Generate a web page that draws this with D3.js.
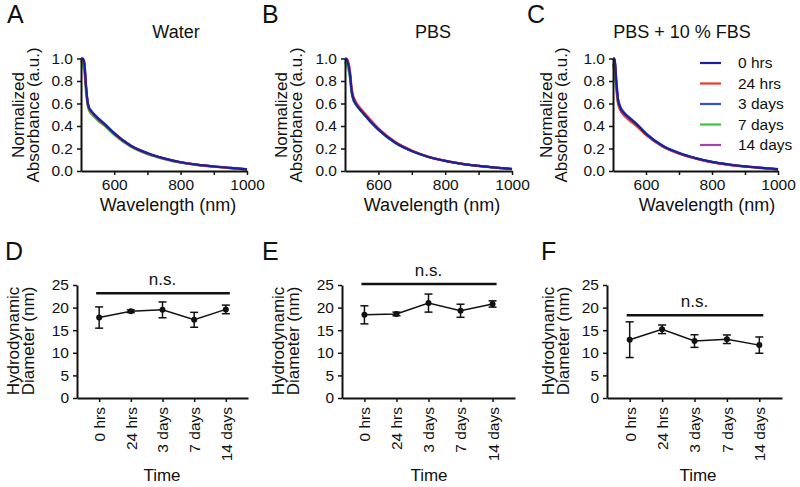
<!DOCTYPE html>
<meta charset="utf-8">
<script src="https://d3js.org/d3.v7.min.js"></script>
<style>
  body { margin: 0; background: #fff; }
  text { font-family: "Liberation Sans", Arial, sans-serif; fill: #111; }
</style>
<div id="figure"></div>
<script>

    // ---- data ----
    let wavelengths = [500, 505, 510, 515, 520, 525, 530, 540, 550, 575, 600, 650, 700, 750, 800, 850, 900, 950, 1000];
    let timeLabels = ["0 hrs", "24 hrs", "3 days", "7 days", "14 days"];

    // panel A - water
    let water0h  = [1.00, 1.00, 0.96, 0.76, 0.61, 0.555, 0.535, 0.500, 0.470, 0.405, 0.335, 0.225, 0.158, 0.112, 0.078, 0.056, 0.040, 0.027, 0.015];
    let water24h = [1.00, 0.99, 0.93, 0.74, 0.60, 0.550, 0.530, 0.495, 0.465, 0.400, 0.330, 0.222, 0.155, 0.110, 0.076, 0.055, 0.039, 0.026, 0.014];
    let water3d  = [1.00, 1.00, 0.97, 0.77, 0.62, 0.560, 0.540, 0.505, 0.475, 0.410, 0.340, 0.228, 0.160, 0.113, 0.079, 0.057, 0.041, 0.028, 0.016];
    let water7d  = [0.98, 0.95, 0.88, 0.70, 0.58, 0.530, 0.510, 0.480, 0.450, 0.390, 0.320, 0.215, 0.150, 0.106, 0.074, 0.053, 0.038, 0.025, 0.013];
    let water14d = [1.00, 0.99, 0.95, 0.75, 0.605, 0.550, 0.530, 0.498, 0.468, 0.403, 0.333, 0.224, 0.157, 0.111, 0.077, 0.055, 0.040, 0.027, 0.015];

    // panel B - PBS
    let pbs0h  = [1.00, 0.99, 0.95, 0.86, 0.71, 0.645, 0.610, 0.565, 0.530, 0.445, 0.370, 0.253, 0.178, 0.125, 0.090, 0.064, 0.045, 0.030, 0.018];
    let pbs24h = [1.00, 1.00, 0.97, 0.89, 0.74, 0.665, 0.630, 0.580, 0.545, 0.460, 0.380, 0.260, 0.183, 0.128, 0.092, 0.066, 0.046, 0.031, 0.019];
    let pbs3d  = [1.00, 0.99, 0.95, 0.86, 0.71, 0.640, 0.610, 0.565, 0.530, 0.445, 0.370, 0.252, 0.177, 0.125, 0.090, 0.064, 0.045, 0.030, 0.018];
    let pbs7d  = [0.97, 0.94, 0.90, 0.82, 0.69, 0.630, 0.600, 0.560, 0.525, 0.440, 0.365, 0.250, 0.176, 0.124, 0.089, 0.063, 0.044, 0.030, 0.018];
    let pbs14d = [1.00, 0.98, 0.94, 0.84, 0.70, 0.635, 0.605, 0.560, 0.528, 0.443, 0.368, 0.251, 0.177, 0.124, 0.089, 0.064, 0.045, 0.030, 0.018];

    // panel C - PBS + 10 % FBS
    let fbs0h  = [1.00, 1.00, 0.80, 0.64, 0.58, 0.545, 0.525, 0.495, 0.470, 0.405, 0.330, 0.225, 0.160, 0.115, 0.081, 0.058, 0.041, 0.028, 0.016];
    let fbs24h = [1.00, 0.97, 0.76, 0.61, 0.555, 0.525, 0.505, 0.475, 0.450, 0.390, 0.320, 0.217, 0.153, 0.110, 0.077, 0.055, 0.039, 0.026, 0.014];
    let fbs3d  = [1.00, 1.00, 0.82, 0.65, 0.59, 0.555, 0.535, 0.500, 0.475, 0.410, 0.335, 0.228, 0.162, 0.116, 0.082, 0.059, 0.042, 0.029, 0.017];
    let fbs7d  = [0.95, 0.86, 0.72, 0.60, 0.56, 0.530, 0.510, 0.480, 0.455, 0.395, 0.325, 0.220, 0.156, 0.112, 0.079, 0.056, 0.040, 0.027, 0.015];
    let fbs14d = [1.00, 0.98, 0.78, 0.62, 0.565, 0.535, 0.515, 0.485, 0.460, 0.398, 0.328, 0.222, 0.158, 0.113, 0.080, 0.057, 0.040, 0.027, 0.015];

    // panels D-F - hydrodynamic diameter (nm), mean and error
    let waterSize = [17.8, 19.2, 19.5, 17.3, 19.6];
    let waterErr  = [2.35, 0.3, 1.75, 1.65, 0.95];
    let pbsSize   = [18.4, 18.6, 21.0, 19.3, 20.8];
    let pbsErr    = [2.0, 0.4, 2.0, 1.45, 0.7];
    let fbsSize   = [12.9, 15.2, 12.6, 13.0, 11.7];
    let fbsErr    = [3.95, 0.95, 1.4, 0.95, 1.8];
    let nsLevel   = [23.2, 25.2, 18.3];

    // ---- styling ----
    let lineColors = ["#1f1f9e", "#e8392b", "#3452c4", "#3fc43f", "#a342ad"];

    let svg = d3.select("#figure").append("svg")
        .attr("width", 800).attr("height", 487);

    let spectraPanels = [
        {letter: "A", title: "Water", series: [water0h, water24h, water3d, water7d, water14d],
         x0: 81, x1: 247, letterX: 7, titleX: 176, labelX: 168, yLab1: 18, yLab2: 33},
        {letter: "B", title: "PBS", series: [pbs0h, pbs24h, pbs3d, pbs7d, pbs14d],
         x0: 345, x1: 512, letterX: 262, titleX: 433, labelX: 432, yLab1: 281, yLab2: 296},
        {letter: "C", title: "PBS + 10 % FBS", series: [fbs0h, fbs24h, fbs3d, fbs7d, fbs14d],
         x0: 613, x1: 778, letterX: 527, titleX: 682, labelX: 707, yLab1: 546, yLab2: 561}
    ];

    function styleAxis(g) {
        g.select(".domain").attr("stroke", "#111").attr("stroke-width", 2);
        g.selectAll(".tick line").attr("stroke", "#111").attr("stroke-width", 1.5);
        g.selectAll(".tick text").style("font-size", "15.5px")
            .style("font-family", "'Liberation Sans', Arial, sans-serif").attr("fill", "#111");
    }

    function yLabel(lines, xs, cy) {
        lines.forEach((t, i) => {
            svg.append("text")
                .attr("transform", "translate(" + xs[i] + "," + cy + ") rotate(-90)")
                .attr("text-anchor", "middle")
                .attr("dy", "0.35em")
                .style("font-size", "17px")
                .text(t);
        });
    }

    spectraPanels.forEach(p => {
        let x = d3.scaleLinear().domain([500, 1000]).range([p.x0, p.x1]);
        let y = d3.scaleLinear().domain([0, 1]).range([171, 58.5]);

        let line = d3.line()
            .x((d, i) => x(wavelengths[i]))
            .y(d => y(d))
            .curve(d3.curveMonotoneX);

        // draw last series first so 0 hrs sits on top
        for (let s = p.series.length - 1; s >= 0; s--) {
            svg.append("path")
                .datum(p.series[s])
                .attr("fill", "none")
                .attr("stroke", lineColors[s])
                .attr("stroke-width", 2.2)
                .attr("d", line);
        }

        svg.append("g")
            .attr("transform", "translate(0,171)")
            .call(d3.axisBottom(x).tickValues([600, 700, 800, 900, 1000])
                .tickFormat(d => d % 200 === 0 ? d : "").tickSize(4).tickSizeOuter(0).tickPadding(4))
            .call(styleAxis);

        svg.append("g")
            .attr("transform", "translate(" + p.x0 + ",0)")
            .call(d3.axisLeft(y).tickValues([0, 0.2, 0.4, 0.6, 0.8, 1.0])
                .tickFormat(d3.format(".1f")).tickSize(4).tickSizeOuter(0).tickPadding(4))
            .call(styleAxis);

        svg.append("text").attr("x", p.letterX).attr("y", 23)
            .style("font-size", "25px").text(p.letter);
        svg.append("text").attr("x", p.titleX).attr("y", 38)
            .attr("text-anchor", "middle").style("font-size", "18px").text(p.title);
        svg.append("text").attr("x", p.labelX).attr("y", 211)
            .attr("text-anchor", "middle").style("font-size", "18px").text("Wavelength (nm)");
        yLabel(["Normalized", "Absorbance (a.u.)"], [p.yLab1, p.yLab2], 115);
    });

    // legend in panel C
    let legend = svg.append("g");
    timeLabels.forEach((t, i) => {
        let ly = 63 + i * 20.5;
        legend.append("line").attr("x1", 700).attr("x2", 721).attr("y1", ly).attr("y2", ly)
            .attr("stroke", lineColors[i]).attr("stroke-width", 2.2);
        legend.append("text").attr("x", 738).attr("y", ly).attr("dy", "0.35em")
            .style("font-size", "15.5px").text(t);
    });

    // ---- hydrodynamic diameter panels ----
    let sizePanels = [
        {letter: "D", mean: waterSize, err: waterErr, ns: nsLevel[0], x0: 77, x1: 248,
         letterX: 5, timeX: 162, yLab1: 13, yLab2: 28},
        {letter: "E", mean: pbsSize, err: pbsErr, ns: nsLevel[1], x0: 342, x1: 515,
         letterX: 262, timeX: 429, yLab1: 278, yLab2: 293},
        {letter: "F", mean: fbsSize, err: fbsErr, ns: nsLevel[2], x0: 607, x1: 782,
         letterX: 541, timeX: 698, yLab1: 548, yLab2: 563}
    ];

    sizePanels.forEach(p => {
        let x = d3.scalePoint().domain(timeLabels).range([p.x0, p.x1]).padding(0.7);
        let y = d3.scaleLinear().domain([0, 25]).range([398, 285]);

        let pts = timeLabels.map((t, i) => ({t: t, m: p.mean[i], e: p.err[i]}));

        svg.append("path")
            .datum(pts)
            .attr("fill", "none").attr("stroke", "#111").attr("stroke-width", 1.5)
            .attr("d", d3.line().x(d => x(d.t)).y(d => y(d.m)));

        let eb = svg.append("g").selectAll("g").data(pts).enter().append("g");
        eb.append("line")
            .attr("x1", d => x(d.t)).attr("x2", d => x(d.t))
            .attr("y1", d => y(d.m - d.e)).attr("y2", d => y(d.m + d.e))
            .attr("stroke", "#111").attr("stroke-width", 1.5);
        [-1, 1].forEach(sgn => {
            eb.append("line")
                .attr("x1", d => x(d.t) - 4).attr("x2", d => x(d.t) + 4)
                .attr("y1", d => y(d.m + sgn * d.e)).attr("y2", d => y(d.m + sgn * d.e))
                .attr("stroke", "#111").attr("stroke-width", 1.5);
        });
        eb.append("circle")
            .attr("cx", d => x(d.t)).attr("cy", d => y(d.m)).attr("r", 3)
            .attr("fill", "#111");

        // n.s. bar
        let first = x(timeLabels[0]), last = x(timeLabels[timeLabels.length - 1]);
        svg.append("line")
            .attr("x1", first - 3).attr("x2", last + 4)
            .attr("y1", y(p.ns)).attr("y2", y(p.ns))
            .attr("stroke", "#111").attr("stroke-width", 2.5);
        svg.append("text")
            .attr("x", (first + last) / 2).attr("y", y(p.ns) - 8)
            .attr("text-anchor", "middle").style("font-size", "17px").text("n.s.");

        let xg = svg.append("g")
            .attr("transform", "translate(0,398)")
            .call(d3.axisBottom(x).tickSize(4).tickSizeOuter(0))
            .call(styleAxis);
        xg.selectAll(".tick text")
            .attr("transform", "rotate(-90)")
            .attr("text-anchor", "end")
            .attr("x", -9).attr("y", 0).attr("dy", "0.35em");

        svg.append("g")
            .attr("transform", "translate(" + p.x0 + ",0)")
            .call(d3.axisLeft(y).tickValues([0, 5, 10, 15, 20, 25])
                .tickSize(4).tickSizeOuter(0).tickPadding(4))
            .call(styleAxis);

        svg.append("text").attr("x", p.letterX).attr("y", 260)
            .style("font-size", "25px").text(p.letter);
        svg.append("text").attr("x", p.timeX).attr("y", 481)
            .attr("text-anchor", "middle").style("font-size", "17px").text("Time");
        yLabel(["Hydrodynamic", "Diameter (nm)"], [p.yLab1, p.yLab2], 341);
    });

</script>
</html>
